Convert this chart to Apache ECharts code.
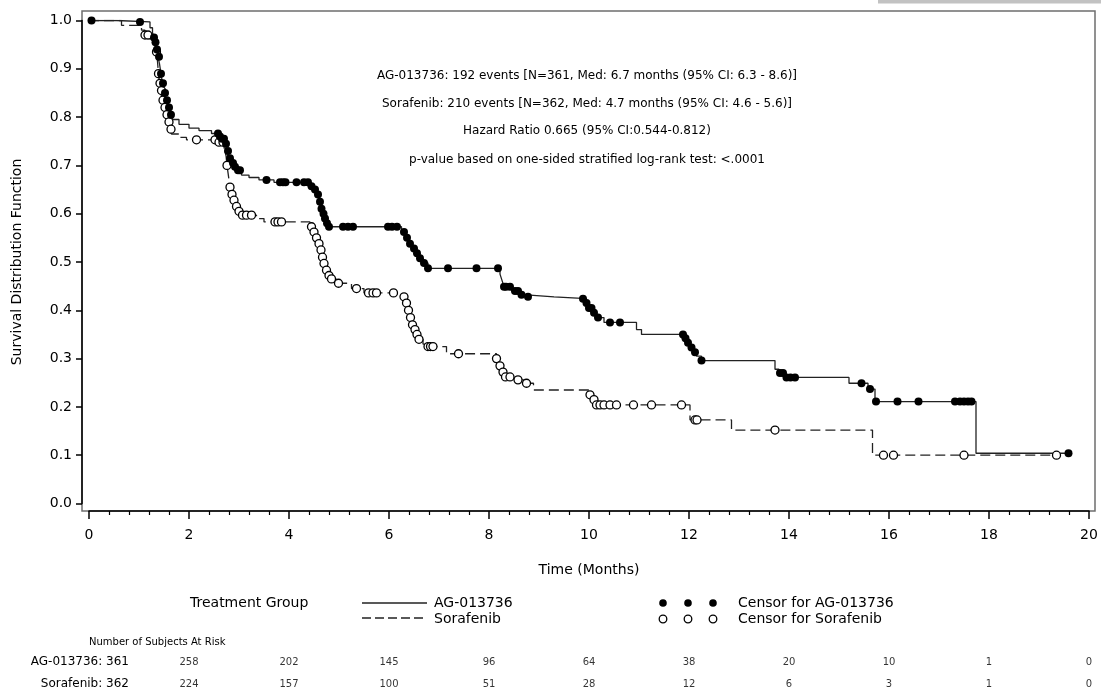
<!DOCTYPE html>
<html><head><meta charset="utf-8">
<script src="https://cdn.jsdelivr.net/npm/echarts@6/dist/echarts.min.js"></script>
<style>html,body{margin:0;padding:0;background:#fff}#c{width:1101px;height:696px}</style>
</head><body><div id="c"></div>
<script>
// ---- data ----
var xTicks = [0, 2, 4, 6, 8, 10, 12, 14, 16, 18, 20];
var yTicks = [0, 0.1, 0.2, 0.3, 0.4, 0.5, 0.6, 0.7, 0.8, 0.9, 1.0];

// AG-013736 step function [time (months), survival]
var agSteps = [[0,1.0],[0.55,0.997],[1.22,0.985],[1.27,0.975],[1.3,0.965],[1.33,0.955],[1.36,0.94],[1.38,0.925],[1.41,0.91],[1.44,0.89],[1.47,0.87],[1.5,0.85],[1.54,0.835],[1.58,0.82],[1.62,0.805],[1.67,0.795],[1.8,0.785],[2.0,0.777],[2.2,0.772],[2.45,0.766],[2.6,0.76],[2.65,0.755],[2.72,0.745],[2.76,0.73],[2.8,0.715],[2.85,0.705],[2.9,0.697],[2.96,0.69],[3.05,0.68],[3.2,0.675],[3.4,0.67],[3.7,0.665],[4.4,0.657],[4.48,0.65],[4.55,0.64],[4.6,0.625],[4.63,0.61],[4.66,0.6],[4.7,0.59],[4.74,0.58],[4.8,0.573],[6.25,0.562],[6.32,0.55],[6.4,0.538],[6.47,0.528],[6.53,0.518],[6.6,0.508],[6.68,0.498],[6.78,0.487],[8.22,0.475],[8.26,0.462],[8.3,0.449],[8.45,0.44],[8.6,0.432],[8.75,0.428],[9.3,0.424],[9.95,0.415],[10.0,0.405],[10.08,0.395],[10.15,0.385],[10.3,0.375],[10.95,0.36],[11.05,0.35],[11.9,0.342],[11.95,0.333],[12.0,0.323],[12.08,0.313],[12.15,0.305],[12.25,0.296],[13.72,0.278],[13.8,0.27],[13.9,0.261],[15.2,0.249],[15.58,0.237],[15.72,0.211],[17.74,0.104]];
var agCensor = [0.05,1.02,1.3,1.33,1.36,1.4,1.44,1.48,1.52,1.56,1.6,1.64,2.58,2.62,2.66,2.7,2.74,2.78,2.82,2.88,2.92,2.98,3.02,3.55,3.82,3.88,3.93,4.15,4.3,4.38,4.45,4.52,4.58,4.62,4.65,4.69,4.72,4.76,4.8,5.08,5.18,5.28,5.98,6.06,6.16,6.3,6.36,6.42,6.5,6.56,6.62,6.7,6.78,7.18,7.75,8.18,8.3,8.34,8.42,8.52,8.58,8.65,8.78,9.88,9.95,10.0,10.05,10.1,10.18,10.42,10.62,11.88,11.93,11.98,12.05,12.12,12.25,13.82,13.88,13.95,14.03,14.12,15.45,15.62,15.74,16.17,16.59,17.32,17.42,17.5,17.58,17.65,19.59];

// Sorafenib step function
var sorSteps = [[0,1.0],[0.65,0.99],[1.05,0.98],[1.12,0.97],[1.2,0.962],[1.3,0.95],[1.35,0.935],[1.37,0.915],[1.39,0.89],[1.41,0.87],[1.43,0.855],[1.46,0.835],[1.49,0.82],[1.53,0.805],[1.57,0.79],[1.61,0.775],[1.65,0.765],[1.8,0.758],[1.95,0.753],[2.55,0.748],[2.7,0.738],[2.74,0.72],[2.76,0.7],[2.78,0.685],[2.8,0.67],[2.82,0.655],[2.85,0.64],[2.88,0.628],[2.92,0.615],[2.98,0.605],[3.05,0.597],[3.35,0.59],[3.5,0.583],[4.42,0.573],[4.48,0.562],[4.53,0.55],[4.58,0.538],[4.62,0.525],[4.66,0.51],[4.69,0.497],[4.72,0.483],[4.76,0.472],[4.85,0.465],[4.95,0.456],[5.25,0.445],[5.5,0.436],[6.25,0.428],[6.32,0.415],[6.37,0.4],[6.41,0.385],[6.45,0.37],[6.5,0.36],[6.55,0.35],[6.6,0.34],[6.68,0.33],[6.75,0.325],[7.15,0.31],[8.15,0.3],[8.2,0.285],[8.25,0.272],[8.3,0.262],[8.55,0.256],[8.7,0.249],[8.89,0.235],[10.0,0.225],[10.08,0.215],[10.12,0.204],[12.02,0.173],[12.85,0.152],[15.67,0.1]];
var sorCensor = [1.12,1.18,1.35,1.39,1.42,1.45,1.48,1.52,1.56,1.6,1.64,2.15,2.52,2.6,2.68,2.76,2.82,2.86,2.9,2.95,3.0,3.07,3.15,3.25,3.72,3.78,3.85,4.45,4.5,4.55,4.6,4.64,4.67,4.7,4.75,4.8,4.85,4.99,5.35,5.59,5.68,5.75,6.09,6.3,6.35,6.39,6.43,6.47,6.52,6.56,6.6,6.78,6.83,6.88,7.39,8.15,8.22,8.28,8.33,8.42,8.58,8.75,10.02,10.1,10.15,10.22,10.3,10.42,10.55,10.89,11.25,11.85,12.12,12.16,13.72,15.89,16.09,17.5,19.35];

// Number at risk
var riskTimes = [2, 4, 6, 8, 10, 12, 14, 16, 18, 20];
var riskRowLabels = ['AG-013736: 361', 'Sorafenib: 362'];
var agRisk = [258, 202, 145, 96, 64, 38, 20, 10, 1, 0];
var sorRisk = [224, 157, 100, 51, 28, 12, 6, 3, 1, 0];

var groupNames = ['AG-013736', 'Sorafenib'];
var annotations = [
  'AG-013736: 192 events [N=361, Med: 6.7 months (95% CI: 6.3 - 8.6)]',
  'Sorafenib: 210 events [N=362, Med: 4.7 months (95% CI: 4.6 - 5.6)]',
  'Hazard Ratio 0.665 (95% CI:0.544-0.812)',
  'p-value based on one-sided stratified log-rank test: <.0001'
];

// ---- helpers ----
function survAt(steps, t) {
  var s = steps[0][1];
  for (var i = 0; i < steps.length; i++) { if (steps[i][0] <= t) s = steps[i][1]; }
  return s;
}
function lineData(steps, censor) {
  var d = steps.slice();
  var last = censor[censor.length - 1];
  if (last > d[d.length - 1][0]) d.push([last, survAt(steps, last)]);
  return d;
}
function censorData(steps, censor) {
  return censor.map(function (t) { return [t, survAt(steps, t)]; });
}

var FONT = 'DejaVu Sans';
var chart = echarts.init(document.getElementById('c'), null, {renderer: 'canvas'});

var graphics = [
  {type: 'rect', shape: {x: 878, y: 0, width: 223, height: 3.5}, style: {fill: '#c2c2c2'}, silent: true},
  {type: 'rect', shape: {x: 82, y: 11, width: 1013, height: 500}, style: {fill: 'none', stroke: '#6e6e6e', lineWidth: 1.5}, z: 0, silent: true}
];
var annY = [76, 104, 131, 160];
annotations.forEach(function (t, i) {
  graphics.push({type: 'text', x: 587, y: annY[i], style: {text: t, font: '12px ' + FONT, fill: '#000', align: 'center', verticalAlign: 'middle'}});
});
// legend
var lgY = [603, 619];
graphics.push({type: 'text', x: 190, y: lgY[0], style: {text: 'Treatment Group', font: '14px ' + FONT, fill: '#000', verticalAlign: 'middle'}});
graphics.push({type: 'line', shape: {x1: 362, y1: lgY[0], x2: 427, y2: lgY[0]}, style: {stroke: '#222', lineWidth: 1.3}});
graphics.push({type: 'line', shape: {x1: 362, y1: lgY[1] - 1, x2: 427, y2: lgY[1] - 1}, style: {stroke: '#222', lineWidth: 1.3, lineDash: [9, 4]}});
groupNames.forEach(function (g, i) {
  graphics.push({type: 'text', x: 434, y: lgY[i], style: {text: g, font: '14px ' + FONT, fill: '#000', verticalAlign: 'middle'}});
  graphics.push({type: 'text', x: 738, y: lgY[i], style: {text: 'Censor for ' + g, font: '14px ' + FONT, fill: '#000', verticalAlign: 'middle'}});
  [663, 688, 713].forEach(function (cx) {
    graphics.push({type: 'circle', shape: {cx: cx, cy: lgY[i], r: 3.8}, style: i === 0 ? {fill: '#000'} : {fill: '#fff', stroke: '#000', lineWidth: 1.3}});
  });
});
graphics.push({type: 'text', x: 89, y: 642, style: {text: 'Number of Subjects At Risk', font: '10px ' + FONT, fill: '#000', verticalAlign: 'middle'}});
var rowY = [662, 684];
riskRowLabels.forEach(function (r, i) {
  graphics.push({type: 'text', x: 129, y: rowY[i], style: {text: r, font: '12px ' + FONT, fill: '#000', align: 'right', verticalAlign: 'middle'}});
});

var riskData = [];
riskTimes.forEach(function (t, i) {
  riskData.push([t, 0, agRisk[i]]);
  riskData.push([t, 1, sorRisk[i]]);
});

var option = {
  animation: false,
  backgroundColor: '#fff',
  textStyle: {fontFamily: FONT},
  grid: [
    {left: 89, right: 12, top: 20.5, bottom: 192.5, containLabel: false},
    {left: 89, right: 12, top: 651, height: 44, containLabel: false}
  ],
  xAxis: [{
    gridIndex: 0, type: 'value', min: 0, max: 20, interval: 2, offset: 7.5,
    name: 'Time (Months)', nameLocation: 'middle', nameGap: 52,
    nameTextStyle: {fontSize: 14, color: '#000', fontFamily: FONT},
    axisLine: {show: true, onZero: false, lineStyle: {color: '#000', width: 1.5}},
    axisTick: {show: true, length: 8, lineStyle: {color: '#000', width: 1.5}},
    minorTick: {show: true, splitNumber: 5, length: 4, lineStyle: {color: '#000', width: 1.2}},
    axisLabel: {fontSize: 14, color: '#000', margin: 17, fontFamily: FONT},
    splitLine: {show: false}
  }, {
    gridIndex: 1, type: 'value', min: 0, max: 20, show: false
  }],
  yAxis: [{
    gridIndex: 0, type: 'value', min: 0, max: 1, interval: 0.1, offset: 7,
    name: 'Survival Distribution Function', nameLocation: 'middle', nameRotate: 90, nameGap: 58,
    nameTextStyle: {fontSize: 14, color: '#000', fontFamily: FONT},
    axisLine: {show: true, onZero: false, lineStyle: {color: '#000', width: 1.5}},
    axisTick: {show: true, length: 6, lineStyle: {color: '#000', width: 1.5}},
    axisLabel: {fontSize: 14, color: '#000', margin: 10, fontFamily: FONT, formatter: function (v) { return v.toFixed(1); }},
    splitLine: {show: false}
  }, {
    gridIndex: 1, type: 'category', data: riskRowLabels, inverse: true, show: false
  }],
  series: [
    {name: groupNames[0], type: 'line', xAxisIndex: 0, yAxisIndex: 0, step: 'end', symbol: 'none',
     data: lineData(agSteps, agCensor), lineStyle: {color: '#222', width: 1.3}, z: 3},
    {name: groupNames[1], type: 'line', xAxisIndex: 0, yAxisIndex: 0, step: 'end', symbol: 'none',
     data: lineData(sorSteps, sorCensor), lineStyle: {color: '#222', width: 1.3, type: [10, 5]}, z: 3},
    {name: 'Censor for ' + groupNames[1], type: 'scatter', xAxisIndex: 0, yAxisIndex: 0, symbol: 'circle', symbolSize: 8,
     data: censorData(sorSteps, sorCensor), itemStyle: {color: '#fff', borderColor: '#000', borderWidth: 1.3, opacity: 1}, z: 4},
    {name: 'Censor for ' + groupNames[0], type: 'scatter', xAxisIndex: 0, yAxisIndex: 0, symbol: 'circle', symbolSize: 8,
     data: censorData(agSteps, agCensor), itemStyle: {color: '#000', opacity: 1}, z: 5},
    {name: 'At risk', type: 'scatter', xAxisIndex: 1, yAxisIndex: 1, symbolSize: 0, data: riskData,
     label: {show: true, position: 'inside', fontSize: 10, color: '#000', fontFamily: FONT,
       formatter: function (p) { return String(p.value[2]); }}}
  ],
  graphic: graphics
};
chart.setOption(option);
</script></body></html>
